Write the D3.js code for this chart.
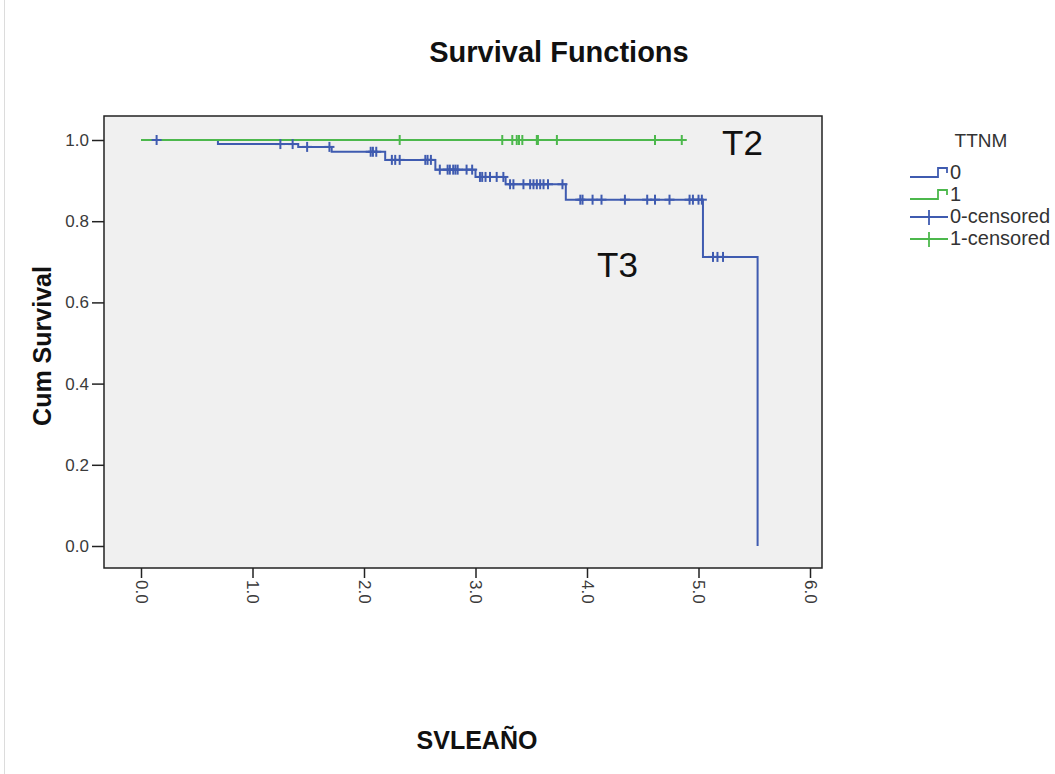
<!DOCTYPE html>
<html>
<head>
<meta charset="utf-8">
<script src="https://cdn.jsdelivr.net/npm/d3@7"></script>
<style>
  body { margin: 0; background: #fff; }
  text { font-family: "Liberation Sans", Arial, sans-serif; }
</style>
</head>
<body>
<svg id="chart" width="1055" height="774"></svg>
<script>
// Kaplan-Meier steps (time in years, cum survival)
var blueEventTimes = [0.69, 1.41, 1.71, 2.19, 2.64, 3.00, 3.27, 3.81, 5.04, 5.53];
var blueSurvival   = [0.990, 0.983, 0.971, 0.951, 0.927, 0.909, 0.891, 0.853, 0.712, 0.0];
var blueCensored = [0.14, 1.25, 1.36, 1.49, 1.69, 2.06, 2.08, 2.11, 2.25, 2.28, 2.32,
  2.55, 2.57, 2.60, 2.68, 2.75, 2.77, 2.80, 2.82, 2.84, 2.92, 2.97,
  3.04, 3.06, 3.09, 3.13, 3.19, 3.25, 3.31, 3.34, 3.43, 3.49, 3.52, 3.55, 3.58, 3.61, 3.65, 3.78,
  3.94, 3.96, 4.05, 4.13, 4.34, 4.54, 4.61, 4.74, 4.92, 4.95, 5.00, 5.03,
  5.13, 5.17, 5.22];

var greenEventTimes = [];
var greenSurvival = [];
var greenCensored = [2.32, 3.24, 3.33, 3.37, 3.39, 3.42, 3.55, 3.56, 3.73, 4.61, 4.85];
var greenEnd = 4.85;

var xTicks = [0, 1, 2, 3, 4, 5, 6];
var yTicks = [0, 0.2, 0.4, 0.6, 0.8, 1.0];
var legendItems = ["0", "1", "0-censored", "1-censored"];

var blue = "#3f5bb0", green = "#4cb84c";

var svg = d3.select("#chart");

// faint page edge
svg.append("line").attr("x1", 4.5).attr("x2", 4.5).attr("y1", 0).attr("y2", 774)
  .attr("stroke", "#dcdcdc").attr("stroke-width", 1);

// frame of the plot
var frame = {left: 104, right: 822, top: 116, bottom: 568};
svg.append("rect")
  .attr("x", frame.left).attr("y", frame.top)
  .attr("width", frame.right - frame.left).attr("height", frame.bottom - frame.top)
  .attr("fill", "#f0f0f0").attr("stroke", "#222").attr("stroke-width", 1.5);

var x = d3.scaleLinear().domain([0, 6]).range([141, 810]);
var y = d3.scaleLinear().domain([0, 1]).range([546, 140]);

// y axis
var yAxis = svg.append("g")
  .attr("transform", "translate(" + frame.left + ",0)")
  .call(d3.axisLeft(y).tickValues(yTicks).tickFormat(d3.format(".1f")).tickSize(12).tickPadding(3));
yAxis.select(".domain").remove();
yAxis.selectAll(".tick line").attr("stroke", "#222").attr("stroke-width", 1.5);
yAxis.selectAll(".tick text").attr("font-size", 17).attr("fill", "#3a3a3a")
  .style("font-family", "'Liberation Sans', Arial, sans-serif");

// x axis with labels turned 90 degrees
var xAxis = svg.append("g")
  .attr("transform", "translate(0," + frame.bottom + ")")
  .call(d3.axisBottom(x).tickValues(xTicks).tickFormat(d3.format(".1f")).tickSize(10));
xAxis.select(".domain").remove();
xAxis.selectAll(".tick line").attr("stroke", "#222").attr("stroke-width", 1.5);
xAxis.selectAll(".tick text")
  .attr("y", 0).attr("x", 12).attr("dy", "0.35em")
  .attr("transform", "rotate(90)")
  .attr("text-anchor", "start")
  .attr("font-size", 17).attr("fill", "#3a3a3a")
  .style("font-family", "'Liberation Sans', Arial, sans-serif");

// step curves
var line = d3.line()
  .x(function(d) { return x(d[0]); })
  .y(function(d) { return y(d[1]); })
  .curve(d3.curveStepAfter);

function stepPoints(times, surv, end) {
  var pts = [[0, 1]];
  times.forEach(function(t, i) { pts.push([t, surv[i]]); });
  if (end != null) pts.push([end, surv.length ? surv[surv.length - 1] : 1]);
  return pts;
}
function survAt(times, surv, t) {
  var i = d3.bisectRight(times, t);
  return i === 0 ? 1 : surv[i - 1];
}

// blue first, green on top of it along 1.0
svg.append("path").datum(stepPoints(blueEventTimes, blueSurvival, null))
  .attr("d", line).attr("fill", "none").attr("stroke", blue).attr("stroke-width", 2);
svg.append("path").datum(stepPoints(greenEventTimes, greenSurvival, greenEnd))
  .attr("d", line).attr("fill", "none").attr("stroke", green).attr("stroke-width", 2);

// censor marks (+)
function drawCensor(times, evT, evS, color) {
  var g = svg.append("g").selectAll("g").data(times).enter().append("g")
    .attr("transform", function(t) {
      return "translate(" + x(t) + "," + y(survAt(evT, evS, t)) + ")";
    });
  g.append("line").attr("x1", 0).attr("x2", 0).attr("y1", -5).attr("y2", 5)
    .attr("stroke", color).attr("stroke-width", 2);
  g.append("line").attr("x1", -5).attr("x2", 5).attr("y1", 0).attr("y2", 0)
    .attr("stroke", color).attr("stroke-width", 2);
}
drawCensor(greenCensored, greenEventTimes, greenSurvival, green);
drawCensor(blueCensored, blueEventTimes, blueSurvival, blue);

// titles
svg.append("text").attr("x", 559).attr("y", 62).attr("text-anchor", "middle")
  .attr("font-size", 29).attr("font-weight", "bold").attr("fill", "#111")
  .text("Survival Functions");
svg.append("text").attr("transform", "translate(51,346) rotate(-90)")
  .attr("text-anchor", "middle").attr("font-size", 25).attr("font-weight", "bold").attr("fill", "#111")
  .text("Cum Survival");
svg.append("text").attr("x", 477).attr("y", 749).attr("text-anchor", "middle")
  .attr("font-size", 25).attr("font-weight", "bold").attr("fill", "#111")
  .text("SVLEAÑO");

// T2 / T3 annotations
svg.append("text").attr("x", 722).attr("y", 155).attr("font-size", 35).attr("fill", "#111").text("T2");
svg.append("text").attr("x", 597).attr("y", 277).attr("font-size", 35).attr("fill", "#111").text("T3");

// legend
var leg = svg.append("g");
leg.append("text").attr("x", 981).attr("y", 147).attr("text-anchor", "middle")
  .attr("font-size", 19).attr("fill", "#333").text("TTNM");
var rows = leg.selectAll("g.item").data(legendItems).enter().append("g")
  .attr("class", "item")
  .attr("transform", function(d, i) { return "translate(0," + (i * 22) + ")"; });
rows.each(function(d, i) {
  var g = d3.select(this);
  var col = (i % 2 === 0) ? blue : green;
  if (i < 2) {
    g.append("path").attr("d", "M910,177H938V168H947V173")
      .attr("fill", "none").attr("stroke", col).attr("stroke-width", 1.8);
  } else {
    g.append("line").attr("x1", 910).attr("x2", 948).attr("y1", 173).attr("y2", 173)
      .attr("stroke", col).attr("stroke-width", 1.8);
    g.append("line").attr("x1", 929).attr("x2", 929).attr("y1", 166).attr("y2", 181)
      .attr("stroke", col).attr("stroke-width", 1.8);
  }
  g.append("text").attr("x", 950).attr("y", 179).attr("font-size", 20).attr("fill", "#333").text(d);
});
</script>
</body>
</html>
